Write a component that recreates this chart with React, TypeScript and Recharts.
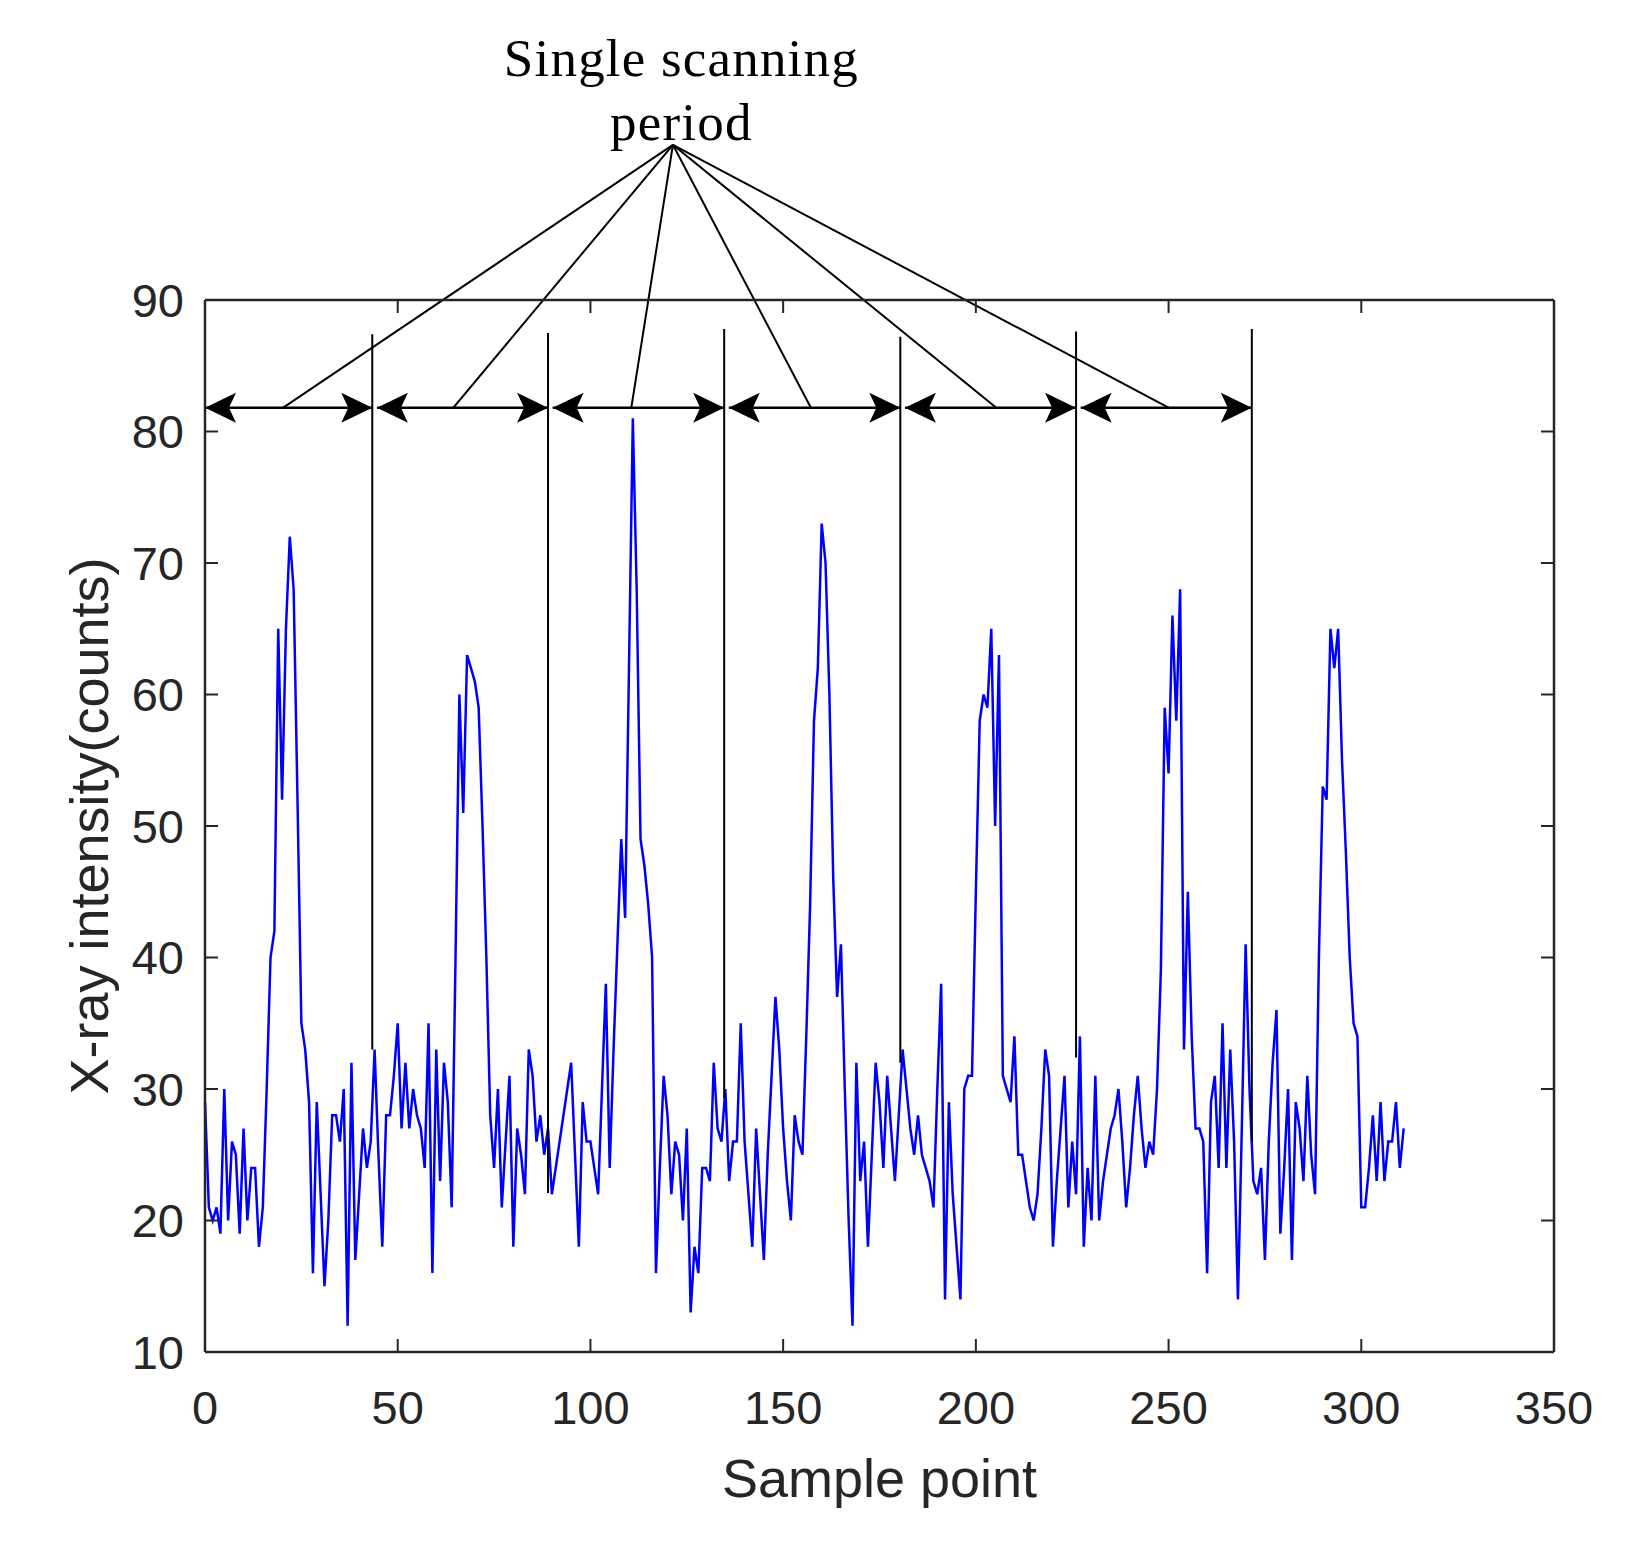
import React from "react";
import { LineChart, Line, XAxis, YAxis, ReferenceLine, ReferenceDot } from "recharts";

// X-ray counts per sample point
const counts = [
  29, 21, 20, 21, 19, 30, 20, 26, 25, 19,
  27, 20, 24, 24, 18, 21, 30, 40, 42, 65,
  52, 65, 72, 68, 52, 35, 33, 29, 16, 29,
  22, 15, 20, 28, 28, 26, 30, 12, 32, 17,
  22, 27, 24, 26, 33, 25, 18, 28, 28, 31,
  35, 27, 32, 27, 30, 28, 27, 24, 35, 16,
  33, 23, 32, 29, 21, 40, 60, 51, 63, 62,
  61, 59, 50, 40, 28, 24, 30, 21, 26, 31,
  18, 27, 25, 22, 33, 31, 26, 28, 25, 27,
  22, 24, 26, 28, 30, 32, 25, 18, 29, 26,
  26, 24, 22, 30, 38, 24, 33, 41, 49, 43,
  62, 81, 68, 49, 47, 44, 40, 16, 24, 31,
  28, 22, 26, 25, 20, 27, 13, 18, 16, 24,
  24, 23, 32, 27, 26, 30, 23, 26, 26, 35,
  26, 22, 18, 27, 22, 17, 25, 31, 37, 33,
  27, 23, 20, 28, 26, 25, 34, 44, 58, 62,
  73, 70, 60, 46, 37, 41, 30, 20, 12, 32,
  23, 26, 18, 25, 32, 29, 24, 31, 27, 23,
  28, 33, 30, 27, 25, 28, 25, 24, 23, 21,
  30, 38, 14, 29, 22, 18, 14, 30, 31, 31,
  45, 58, 60, 59, 65, 50, 63, 31, 30, 29,
  34, 25, 25, 23, 21, 20, 22, 27, 33, 31,
  18, 23, 27, 31, 21, 26, 22, 34, 18, 24,
  20, 31, 20, 23, 25, 27, 28, 30, 26, 21,
  24, 28, 31, 27, 24, 26, 25, 30, 39, 59,
  54, 66, 58, 68, 33, 45, 34, 27, 27, 26,
  16, 29, 31, 24, 35, 24, 33, 26, 14, 27,
  41, 30, 23, 22, 24, 17, 26, 32, 36, 19,
  24, 30, 17, 29, 27, 23, 31, 25, 22, 40,
  53, 52, 65, 62, 65, 55, 48, 40, 35, 34,
  21, 21, 24, 28, 23, 29, 23, 26, 26, 29,
  24, 27,
];

const sampleTicks = [0, 50, 100, 150, 200, 250, 300, 350];
const countTicks = [10, 20, 30, 40, 50, 60, 70, 80, 90];

// annotation: end of each scanning period and the marker lines
const periodEnds = [43.4, 89.0, 134.7, 180.4, 226.0, 271.6];
const markerTops = [87.4, 87.5, 87.8, 87.2, 87.6, 87.8];
const markerBottoms = [33, 22.1, 29.3, 32, 32.4, 26];
const arrowLevel = 81.8;
const pointerEnds = [20.2, 64.4, 110.6, 157.2, 205.3, 250.1];
const hub = { x: 121.4, y: 101.8 };
const noteLines = ["Single scanning", "period"];
const noteBaselines = [107.0, 102.2];
const noteCenter = 123.6;

const data = counts.map((v, i) => ({ sample: i, counts: v }));

const AXIS = "#262626";
const sans = "'Liberation Sans', Arial, sans-serif";
const serif = "'Liberation Serif', 'Times New Roman', serif";
const TICK_LEN = 13;
const X_GAP = 39;
const Y_GAP = 21;

// matlab style: tick marks point into the plot box
function BottomTick(props: any) {
  const { x, y, payload } = props;
  const axisY = y - X_GAP;
  return (
    <g>
      <line x1={x} y1={axisY} x2={x} y2={axisY - TICK_LEN} stroke={AXIS} strokeWidth={2} />
      <text x={x} y={y} dy="0.71em" textAnchor="middle" fill={AXIS} fontSize={47} fontFamily={sans}>
        {payload.value}
      </text>
    </g>
  );
}

function LeftTick(props: any) {
  const { x, y, payload } = props;
  const axisX = x + Y_GAP;
  return (
    <g>
      <line x1={axisX} y1={y} x2={axisX + TICK_LEN} y2={y} stroke={AXIS} strokeWidth={2} />
      <text x={x} y={y} dy="0.355em" textAnchor="end" fill={AXIS} fontSize={47} fontFamily={sans}>
        {payload.value}
      </text>
    </g>
  );
}

function TopTick(props: any) {
  const { x, y } = props;
  return <line x1={x} y1={y} x2={x} y2={y + TICK_LEN} stroke={AXIS} strokeWidth={2} />;
}

function RightTick(props: any) {
  const { x, y } = props;
  return <line x1={x} y1={y} x2={x - TICK_LEN} y2={y} stroke={AXIS} strokeWidth={2} />;
}

function DoubleArrow(props: any) {
  const { x1, y1, x2, y2 } = props;
  const len = 31;
  const half = 15;
  const notch = 24;
  const head = (tip: number, dir: number) =>
    `M${tip},${y1} L${tip - dir * len},${y1 - half} L${tip - dir * notch},${y1} L${tip - dir * len},${y1 + half} Z`;
  return (
    <g>
      <line x1={x1} y1={y1} x2={x2} y2={y2} stroke="#000" strokeWidth={2.5} />
      <path d={head(x1, -1)} fill="#000" />
      <path d={head(x2, 1)} fill="#000" />
    </g>
  );
}

function Note(text: string) {
  return (props: any) => (
    <text
      x={props.cx}
      y={props.cy}
      textAnchor="middle"
      fontFamily={serif}
      fontSize={53}
      letterSpacing={1.2}
      fill="#000"
    >
      {text}
    </text>
  );
}

export default function App() {
  const arrowStarts = [0, ...periodEnds.slice(0, -1).map((e) => e + 1.2)];
  return (
    <div style={{ width: 1640, height: 1542, background: "#fff" }}>
      <LineChart
        width={1640}
        height={1542}
        data={data}
        margin={{ top: 291, right: 93, bottom: 48, left: 67 }}
      >
        <XAxis
          dataKey="sample"
          type="number"
          domain={[0, 350]}
          ticks={sampleTicks}
          height={150}
          tickSize={0}
          tickMargin={X_GAP}
          tickLine={false}
          axisLine={{ stroke: AXIS, strokeWidth: 2.5 }}
          tick={BottomTick}
          label={{
            content: (p: any) => (
              <text
                x={p.viewBox.x + p.viewBox.width / 2}
                y={p.viewBox.y + 145}
                textAnchor="middle"
                fontFamily={sans}
                fontSize={54}
                fill={AXIS}
              >
                Sample point
              </text>
            ),
          }}
        />
        <XAxis
          xAxisId="top"
          orientation="top"
          dataKey="sample"
          type="number"
          domain={[0, 350]}
          ticks={sampleTicks}
          height={1}
          tickSize={0}
          tickMargin={0}
          tickLine={false}
          tick={TopTick}
          axisLine={{ stroke: AXIS, strokeWidth: 2.5 }}
        />
        <YAxis
          type="number"
          domain={[10, 90]}
          ticks={countTicks}
          width={130}
          tickSize={0}
          tickMargin={Y_GAP}
          tickLine={false}
          axisLine={{ stroke: AXIS, strokeWidth: 2.5 }}
          tick={LeftTick}
          label={{
            content: (p: any) => {
              const x = p.viewBox.x + 33;
              const y = p.viewBox.y + p.viewBox.height / 2;
              return (
                <text
                  x={x}
                  y={y}
                  transform={`rotate(-90, ${x}, ${y})`}
                  textAnchor="middle"
                  fontFamily={sans}
                  fontSize={54}
                  fill={AXIS}
                >
                  X-ray intensity(counts)
                </text>
              );
            },
          }}
        />
        <YAxis
          yAxisId="right"
          orientation="right"
          type="number"
          domain={[10, 90]}
          ticks={countTicks}
          width={1}
          tickSize={0}
          tickMargin={0}
          tickLine={false}
          tick={RightTick}
          axisLine={{ stroke: AXIS, strokeWidth: 2.5 }}
        />
        {/* invisible copy so the box axes on top/right have a series */}
        <Line
          xAxisId="top"
          yAxisId="right"
          dataKey="counts"
          stroke="none"
          dot={false}
          activeDot={false}
          isAnimationActive={false}
        />
        <Line
          type="linear"
          dataKey="counts"
          stroke="#0000ff"
          strokeWidth={2.5}
          dot={false}
          isAnimationActive={false}
        />
        {periodEnds.map((e, i) => (
          <ReferenceLine
            key={`m${i}`}
            ifOverflow="visible"
            segment={[
              { x: e, y: markerBottoms[i] },
              { x: e, y: markerTops[i] },
            ]}
            stroke="#000"
            strokeWidth={2}
          />
        ))}
        {periodEnds.map((e, i) => (
          <ReferenceLine
            key={`a${i}`}
            ifOverflow="visible"
            segment={[
              { x: arrowStarts[i], y: arrowLevel },
              { x: e, y: arrowLevel },
            ]}
            shape={DoubleArrow}
          />
        ))}
        {pointerEnds.map((p, i) => (
          <ReferenceLine
            key={`p${i}`}
            ifOverflow="visible"
            segment={[
              { x: hub.x, y: hub.y },
              { x: p, y: arrowLevel },
            ]}
            stroke="#000"
            strokeWidth={2}
          />
        ))}
        {noteLines.map((t, i) => (
          <ReferenceDot
            key={`n${i}`}
            x={noteCenter}
            y={noteBaselines[i]}
            r={0}
            ifOverflow="visible"
            shape={Note(t)}
          />
        ))}
      </LineChart>
    </div>
  );
}
